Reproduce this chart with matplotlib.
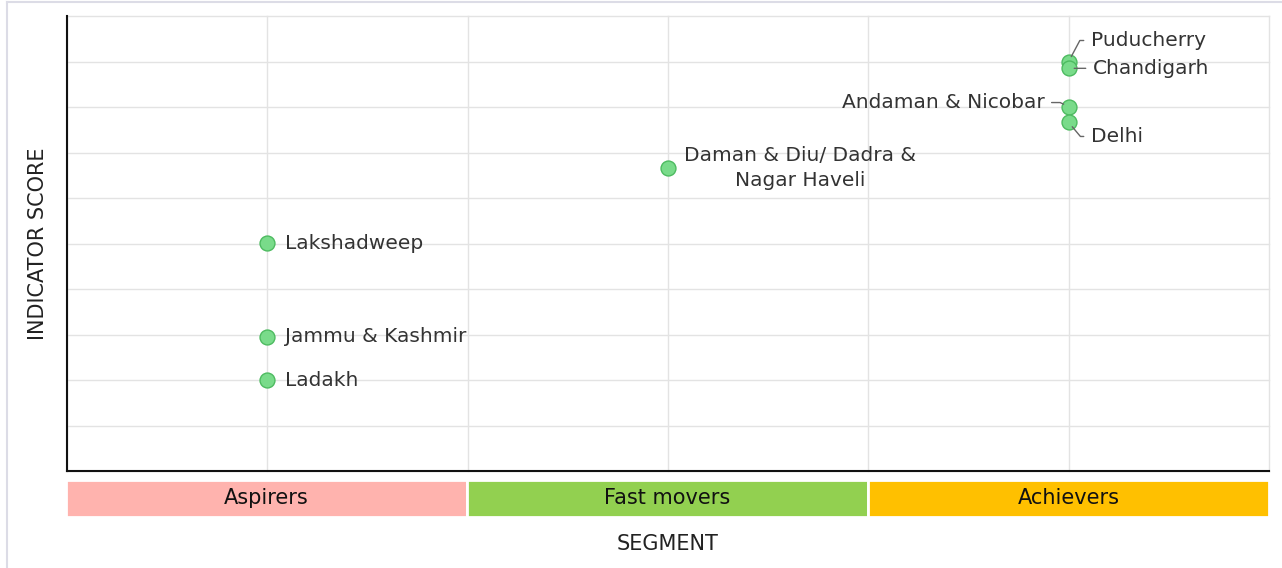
import matplotlib
matplotlib.use('Agg')
import matplotlib.pyplot as plt
from matplotlib.lines import Line2D

segments = ['Aspirers', 'Fast movers', 'Achievers']
segment_colors = ['#FFB3AE', '#92D050', '#FFC000']

names = ['Puducherry', 'Chandigarh', 'Andaman & Nicobar', 'Delhi',
         'Daman & Diu/ Dadra &\nNagar Haveli', 'Lakshadweep',
         'Jammu & Kashmir', 'Ladakh']
name_segment = [2, 2, 2, 2, 1, 0, 0, 0]
scores = [9.0, 8.85, 8.01, 7.66, 6.66, 5.01, 2.95, 2.0]

# label placement: (dx px, dy px, ha, connection style or None)
label_style = {
    'Puducherry': (22, 21, 'left', 'angle,angleA=0,angleB=62,rad=0'),
    'Chandigarh': (24, 0, 'left', 'arc3'),
    'Andaman & Nicobar': (-24, 4, 'right', 'angle,angleA=0,angleB=-25,rad=0'),
    'Delhi': (22, -14, 'left', 'angle,angleA=0,angleB=-50,rad=0'),
    'Daman & Diu/ Dadra &\nNagar Haveli': (132, 0, 'center', None),
    'Lakshadweep': (18, 0, 'left', None),
    'Jammu & Kashmir': (18, 0, 'left', None),
    'Ladakh': (18, 0, 'left', None),
}

W, H = 1282, 568
fig = plt.figure(figsize=(W / 100, H / 100), dpi=100)
fig.patch.set_facecolor('white')

# card border
fig.add_artist(Line2D([7 / W, 1], [1 - 2 / H, 1 - 2 / H], color='#dcdce6', lw=1.5))
fig.add_artist(Line2D([7 / W, 7 / W], [0, 1 - 2 / H], color='#dcdce6', lw=1.5))

ax = fig.add_axes([67 / W, 97 / H, (1269 - 67) / W, (471 - 16) / H])
ax.set_xlim(0, 3)
ax.set_ylim(0, 10)
ax.set_xticks([0.5 * i for i in range(7)])
ax.set_yticks(range(11))
ax.grid(True, color='#e3e3e3', lw=1, clip_on=False)
ax.set_axisbelow(True)
ax.tick_params(length=0, labelbottom=False, labelleft=False)
for s in ['top', 'right']:
    ax.spines[s].set_visible(False)
for s in ['left', 'bottom']:
    ax.spines[s].set_linewidth(1.5)
    ax.spines[s].set_color('#111111')

xs = [i + 0.5 for i in name_segment]
ax.scatter(xs, scores, s=115, facecolor='#79DB8A', edgecolor='#4DBB60',
           linewidth=1, zorder=3, clip_on=False)

for name, x, y in zip(names, xs, scores):
    dx, dy, ha, conn = label_style[name]
    kw = {}
    if conn is not None:
        relpos = (0, 0.5) if ha == 'left' else (1, 0.5)
        kw['arrowprops'] = dict(arrowstyle='-', color='#666666', lw=1,
                                connectionstyle=conn, relpos=relpos,
                                shrinkA=3, shrinkB=4)
    ax.annotate(name, (x, y), xytext=(dx, dy), textcoords='offset pixels',
                ha=ha, va='center', multialignment='center', linespacing=1.35,
                fontsize=14.5, color='#333333', zorder=4, **kw)

ax.set_ylabel('INDICATOR SCORE', fontsize=15, color='#222222', labelpad=14)

# segment band
bx = fig.add_axes([66 / W, 51 / H, (1269 - 66) / W, 37 / H])
bx.set_xlim(0, 3)
bx.set_ylim(0, 1)
bx.bar(range(len(segments)), [1] * len(segments), width=1, align='edge',
       color=segment_colors, edgecolor='white', linewidth=2)
for i, seg in enumerate(segments):
    bx.text(i + 0.5, 0.5, seg, ha='center', va='center', fontsize=15, color='#111111')
bx.axis('off')

fig.text(668 / W, 1 - 544 / H, 'SEGMENT', ha='center', va='center',
         fontsize=15, color='#222222')

fig.savefig('out.png', dpi=100)
